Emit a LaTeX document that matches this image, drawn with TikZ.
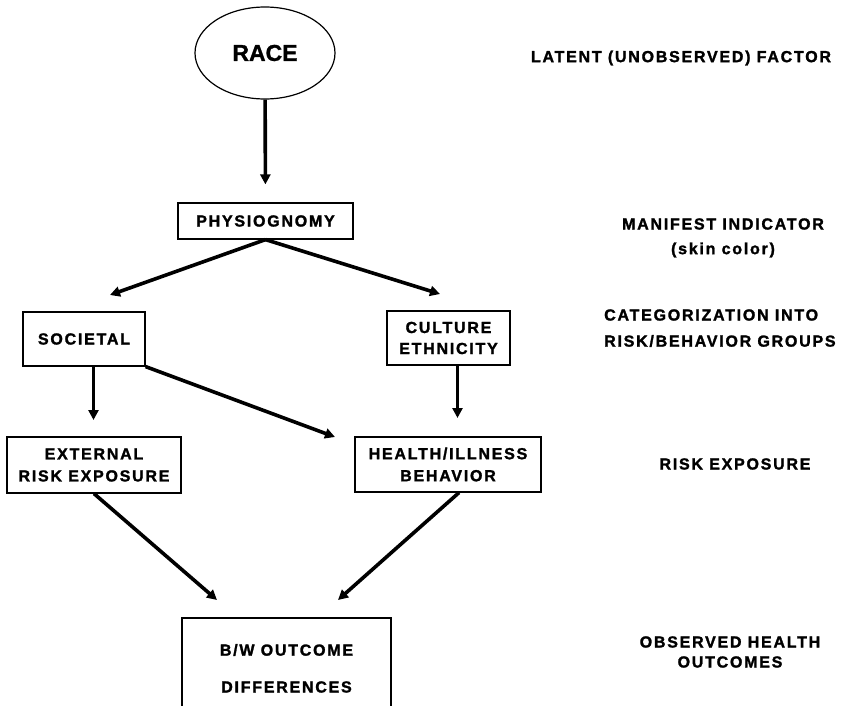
\documentclass[tikz,border=0pt]{standalone}
\usepackage{fontspec}
\setmainfont{Liberation Sans}[BoldFeatures={FakeBold=1.2}]
\newfontfamily\spfont{Liberation Sans}[LetterSpace=11, BoldFeatures={FakeBold=1.6}]
\usetikzlibrary{arrows.meta,shapes.geometric}
\begin{document}
\begin{tikzpicture}[x=1pt,y=-1pt,
  txt/.style={font=\spfont\bfseries\fontsize{16}{20}\selectfont, inner sep=0pt, align=center},
  box/.style={draw, line width=1.2pt, txt, inner sep=0pt, minimum width=#1},
  arr/.style={line width=3.6pt, -{Triangle[length=10pt,width=10pt]}}]
\useasboundingbox (0,0) rectangle (855,706);
\clip (0,0) rectangle (855,706);
\fill[white] (0,0) rectangle (855,706);

% nodes
\node[draw, ellipse, line width=1.2pt, minimum width=140pt, minimum height=92pt, inner sep=0pt,
      font=\bfseries\fontsize{23}{26}\selectfont] (race) at (265,53) {RACE};
\node[box=175pt, minimum height=36pt] (phys) at (265.5,221) {PHYSIOGNOMY};
\node[box=122pt, minimum height=54pt] (soc) at (84,339) {SOCIETAL};
\node[box=123pt, minimum height=54pt] (cult) at (448.5,338) {CULTURE\\[1pt]ETHNICITY};
\node[box=174pt, minimum height=56pt] (ext) at (94,465) {EXTERNAL\\[2pt]RISK EXPOSURE};
\node[box=186pt, minimum height=55pt] (hlth) at (448,464.5) {HEALTH/ILLNESS\\[2pt]BEHAVIOR};
\node[draw, line width=1.2pt, minimum width=209pt, minimum height=142pt] (bw) at (286.5,689) {};
\node[txt] (bw1) at (286.5,650) {B/W OUTCOME};
\node[txt] (bw2) at (286.5,687) {DIFFERENCES};

% right-hand labels
\node[txt] (l1) at (681,58) {LATENT (UNOBSERVED) FACTOR};
\node[txt] (l2) at (723,224) {MANIFEST INDICATOR};
\node[txt] (l2b) at (723,250) {(skin color)};
\node[txt, anchor=west] (l3) at (604,315) {CATEGORIZATION INTO};
\node[txt, anchor=west] (l3b) at (604,341) {RISK/BEHAVIOR GROUPS};
\node[txt] (l4) at (735,464) {RISK EXPOSURE};
\node[txt] (l5) at (730,642) {OBSERVED HEALTH};
\node[txt] (l5b) at (730,662) {OUTCOMES};

% free ends
\coordinate (tSoc) at (110,295);
\coordinate (tCult) at (440,294);
\coordinate (tExt) at (93.5,420);
\coordinate (tHl) at (335,437);
\coordinate (tHl2) at (457.5,418);
\coordinate (tBwL) at (217,600);
\coordinate (tBwR) at (338,600);

% connectors
\draw[arr, shorten >=18pt] (race) -- (phys);
\draw[arr] (phys.south) -- (tSoc);
\draw[arr] (phys.south) -- (tCult);
\draw[arr] (soc.south -| tExt) -- (tExt);
\draw[arr] (soc.south east) -- (tHl);
\draw[arr] (cult.south -| tHl2) -- (tHl2);
\draw[arr] (ext.south) -- (tBwL);
\draw[arr] ([xshift=11pt]hlth.south) -- (tBwR);
\end{tikzpicture}
\end{document}
